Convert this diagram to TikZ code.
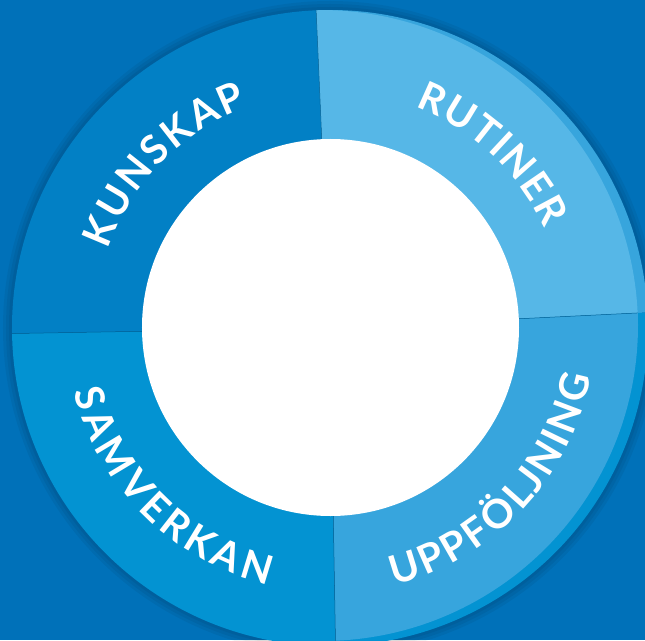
\documentclass[tikz,border=0pt]{standalone}
\usepackage{fontspec}
\setmainfont{Lato}
\usetikzlibrary{decorations.text}
\definecolor{bgblue}{HTML}{0071B9}
\definecolor{kunskap}{HTML}{0280C5}
\definecolor{rutiner}{HTML}{56B7E7}
\definecolor{uppfolj}{HTML}{37A5DD}
\definecolor{samverkan}{HTML}{0393D2}
\newcommand\ringfont{\bfseries\fontsize{40}{40}\selectfont}
\begin{document}
\begin{tikzpicture}[x=1pt, y=1pt,
  divider/.style={draw=kunskap!75!black, line width=.5},
  ringtext/.style={decoration={text effects along path, text={#1},
    text effects/.cd, text along path, fit text to path,
    characters={text=white, font=\ringfont}}, decorate}]
\fill[bgblue] (-330,-312) rectangle (315,328);
\useasboundingbox (-330,-312) rectangle (315,328);
% soft shadow round the ring
\foreach \r in {327,324,321}
  \fill[black, opacity=.05] (0,0) circle (\r);
% the four quarters
\fill[kunskap] (0,0) -- (92.5:318) arc (92.5:181:318) -- cycle;
\fill[samverkan] (0,0) -- (181:318) arc (181:271:318) -- cycle;
\fill[uppfolj] (0,0) -- (2.8:318) arc (2.8:92.5:318) -- cycle;
\fill[samverkan] (0,0) -- (271:318) arc (271:362.8:318) -- cycle;
\begin{scope}
  \clip (0,0) -- (2.8:318) arc (2.8:92.5:318) -- cycle;
  \fill[rutiner] (-10,0) circle (318);
\end{scope}
\begin{scope}
  \clip (0,0) -- (271:318) arc (271:362.8:318) -- cycle;
  \fill[uppfolj] (-8,3) circle (316);
\end{scope}
\draw[divider] (92.5:188) -- (92.5:318);
\draw[divider] (181:188) -- (181:318);
\draw[divider] (271:188) -- (271:316);
\draw[divider] (2.8:188) -- (2.8:308);
\fill[white] (0.5,0.5) circle (188.5);
% labels
\path[ringtext=KUNSKAP] (160.5:236) arc (160.5:110.5:236);
\path[ringtext=RUTINER] (69:237) arc (69:25:237);
\path[ringtext=SAMVERKAN] (194:264) arc (194:256.5:264);
\path[ringtext=UPPFÖLJNING] (-76:265) arc (-76:-10.5:265);
\end{tikzpicture}
\end{document}
